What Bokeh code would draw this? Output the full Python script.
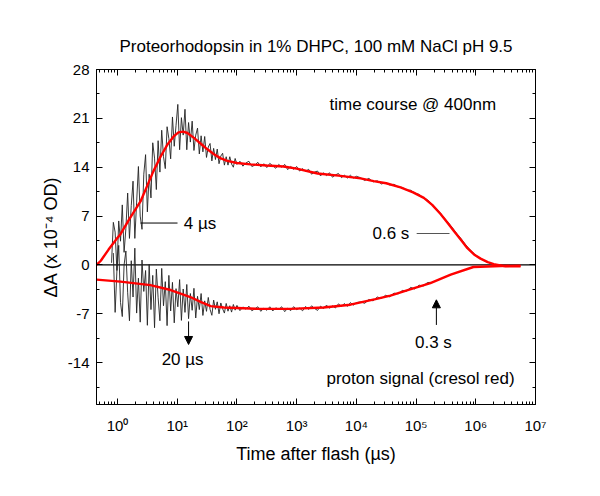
import numpy as np
from bokeh.plotting import figure
from bokeh.models import (LogAxis, LinearAxis, FixedTicker, Span, Label, Arrow,
                          NormalHead, CustomJSTickFormatter, Range1d)
from bokeh.embed import file_html
from bokeh.resources import INLINE

FONT = "Liberation Sans"

# ---------------- data (time as log10 of microseconds) ----------------
# measured trace at 400 nm (black)
up_logt = [-0.10, -0.07, -0.04, -0.01, 0.02, 0.05, 0.08, 0.11, 0.14, 0.17, 0.20, 0.23, 0.26, 0.29,
           0.32, 0.35, 0.38, 0.41, 0.44, 0.47, 0.50, 0.53, 0.56, 0.59, 0.62, 0.65, 0.68, 0.71,
           0.74, 0.77, 0.80, 0.83, 0.86, 0.89, 0.92, 0.95, 0.98, 1.01, 1.04, 1.07, 1.10, 1.13,
           1.16, 1.19, 1.22, 1.25, 1.28, 1.31, 1.34, 1.37, 1.40, 1.43, 1.46, 1.49, 1.52, 1.55,
           1.58, 1.61, 1.64, 1.67, 1.70, 1.73, 1.76, 1.79, 1.82, 1.85, 1.88, 1.91, 1.94, 1.97,
           2.00, 2.05, 2.10, 2.15, 2.20, 2.25, 2.30, 2.35, 2.40, 2.45, 2.50, 2.55, 2.60, 2.65,
           2.70, 2.75, 2.80, 2.85, 2.90, 2.95, 3.00, 3.05, 3.10, 3.15, 3.20, 3.25, 3.30, 3.35,
           3.40, 3.45, 3.50, 3.55, 3.60, 3.65, 3.70, 3.75, 3.80, 3.85, 3.90, 3.95, 4.00, 4.07,
           4.14, 4.21, 4.28, 4.35, 4.42, 4.49, 4.56, 4.63, 4.70, 4.77, 4.84, 4.91, 4.98, 5.05,
           5.12, 5.19, 5.26, 5.33, 5.40, 5.47, 5.54, 5.61, 5.68, 5.75, 5.82, 5.89, 5.96, 6.03,
           6.10, 6.17, 6.24, 6.31]
up_val = [0.3, 6.1, 4.7, -0.8, 6.3, 3.4, 8.6, 1.8, 5.2, 10.3, 3.8, 8.5, 12.0, 3.8,
          9.0, 14.1, 7.0, 5.1, 13.0, 15.8, 7.6, 13.0, 9.6, 17.5, 15.3, 10.8, 17.8, 13.3,
          19.3, 15.5, 13.8, 19.8, 18.1, 15.2, 21.2, 17.0, 20.0, 23.0, 16.5, 21.1, 18.6, 22.3,
          16.5, 20.4, 17.6, 20.6, 16.4, 18.6, 19.6, 15.9, 18.5, 16.2, 18.4, 15.4, 16.9, 17.4,
          14.9, 16.7, 15.1, 16.6, 14.5, 15.6, 16.0, 14.3, 15.5, 14.3, 15.5, 14.45, 14.0, 15.25,
          14.4, 14.85, 14.15, 14.6, 14.85, 14.1, 14.3, 14.7, 14.05, 14.5, 13.95, 14.55, 14.2, 13.85,
          14.4, 14.0, 14.4, 13.65, 14.1, 13.7, 14.1, 13.45, 13.8, 13.4, 13.7, 13.0, 13.3, 13.45,
          12.75, 13.2, 12.8, 13.2, 12.57, 12.9, 13.1, 12.5, 12.85, 12.45, 12.85, 12.45, 12.7, 12.5,
          12.1, 12.4, 11.9, 12.05, 11.6, 11.8, 11.45, 11.55, 11.15, 11.1, 10.7, 10.7, 10.3, 10.1,
          9.6, 9.35, 8.75, 8.15, 7.5, 6.75, 6.05, 5.3, 4.5, 3.8, 3.0, 2.3, 1.7, 1.2,
          0.8, 0.5, 0.25, 0.05]

# measured proton signal, cresol red (black)
dn_logt = [-0.07, -0.04, -0.01, 0.02, 0.05, 0.08, 0.11, 0.14, 0.17, 0.20, 0.23, 0.26, 0.29,
           0.32, 0.35, 0.38, 0.41, 0.44, 0.47, 0.50, 0.53, 0.56, 0.59, 0.62, 0.65, 0.68, 0.71,
           0.74, 0.77, 0.80, 0.83, 0.86, 0.89, 0.92, 0.95, 0.98, 1.01, 1.04, 1.07, 1.10, 1.13,
           1.16, 1.19, 1.22, 1.25, 1.28, 1.31, 1.34, 1.37, 1.40, 1.43, 1.46, 1.49, 1.52, 1.55,
           1.58, 1.61, 1.64, 1.67, 1.70, 1.73, 1.76, 1.79, 1.82, 1.85, 1.88, 1.91, 1.94, 1.97,
           2.00, 2.05, 2.10, 2.15, 2.20, 2.25, 2.30, 2.35, 2.40, 2.45, 2.50, 2.55, 2.60, 2.65,
           2.70, 2.75, 2.80, 2.85, 2.90, 2.95, 3.00, 3.05, 3.10, 3.15, 3.20, 3.25, 3.30, 3.35,
           3.40, 3.45, 3.50, 3.55, 3.60, 3.65, 3.70, 3.75, 3.80, 3.85, 3.90, 3.95, 4.00, 4.07,
           4.14, 4.21, 4.28, 4.35, 4.42, 4.49, 4.56, 4.63, 4.70, 4.77, 4.84, 4.91, 4.98, 5.05,
           5.12, 5.19, 5.24]
dn_val = [1.7, -6.8, -0.85, 2.8, -5.4, -7.4, 0.0, 2.0, -4.0, -8.0, 0.6, -4.6, 2.4,
          -6.9, -1.9, -8.2, 0.7, -3.8, -0.8, -8.65, 0.1, -6.4, -1.5, -9.0, -0.6, -4.7, -8.0,
          -0.5, -5.85, -2.4, -8.7, -1.5, -6.6, -2.5, -8.3, -3.4, -6.0, -2.1, -7.95, -3.45, -6.8,
          -2.8, -7.7, -4.1, -6.5, -3.35, -7.6, -4.5, -6.4, -4.1, -7.24, -5.15, -6.65, -4.66, -6.37,
          -7.22, -5.04, -6.36, -5.29, -7.0, -5.45, -6.28, -6.9, -5.52, -6.63, -5.85, -6.76, -5.67, -6.48,
          -5.8, -6.55, -6.02, -6.34, -5.91, -6.57, -6.28, -6.0, -6.65, -6.2, -6.5, -6.0, -6.6, -6.15,
          -6.35, -6.0, -6.7, -6.2, -6.55, -5.98, -6.41, -6.19, -6.57, -5.95, -6.38, -5.86, -6.24, -6.52,
          -5.91, -6.25, -5.76, -6.21, -5.87, -6.17, -5.58, -5.93, -5.54, -5.94, -5.4, -5.75, -5.4, -5.3,
          -5.5, -4.95, -5.15, -4.6, -4.8, -4.35, -4.57, -4.04, -4.15, -3.66, -3.76, -3.22, -3.45, -2.9,
          -3.02, -2.53, -2.5]

# fit curves (red)
fit_up_logt = [-0.35, -0.28, -0.15, 0.00, 0.05, 0.20, 0.385, 0.50, 0.60, 0.72, 0.84, 0.95,
               1.02, 1.10, 1.17, 1.28, 1.39, 1.50, 1.61, 1.72, 1.84, 2.00, 2.23, 2.50, 2.78,
               3.00, 3.35, 3.70, 4.07, 4.29, 4.50, 4.74, 4.95, 5.13, 5.27, 5.41, 5.52, 5.63,
               5.75, 5.86, 5.97, 6.08, 6.20, 6.30, 6.50, 6.75]
fit_up_val = [0.0, 0.6, 2.2, 3.9, 4.4, 6.6, 9.1, 11.4, 13.4, 15.5, 17.3, 18.5,
              19.0, 19.1, 18.9, 18.2, 17.4, 16.6, 15.9, 15.3, 14.9, 14.6, 14.4, 14.25, 14.1,
              13.8, 13.1, 12.8, 12.4, 12.0, 11.7, 11.1, 10.4, 9.6, 8.6, 7.3, 6.1, 4.9,
              3.6, 2.4, 1.5, 0.9, 0.4, 0.1, -0.2, -0.2]
fit_dn_logt = [-0.35, 0.05, 0.55, 0.89, 1.22, 1.39, 1.56, 1.78, 2.35, 2.90, 3.45, 3.90,
               4.32, 4.57, 4.86, 5.24, 5.58, 5.96, 6.42, 6.75]
fit_dn_val = [-2.1, -2.4, -2.9, -3.6, -4.6, -5.3, -5.9, -6.1, -6.3, -6.3, -6.1, -5.7,
              -4.9, -4.4, -3.6, -2.6, -1.4, -0.3, -0.15, -0.1]

# axes
x_ticks = [1, 10, 100, 1000, 10000, 100000, 1000000, 10000000]
x_tick_labels = ["10\u2070", "10\u00b9", "10\u00b2", "10\u00b3", "10\u2074", "10\u2075",
                 "10\u2076", "10\u2077"]
y_ticks = [-14, -7, 0, 7, 14, 21, 28]
y_tick_labels = ["-14", "-7", "0", "7", "14", "21", "28"]
y_minor_ticks = [-17.5, -10.5, -3.5, 3.5, 10.5, 17.5, 24.5]
x_minor_ticks = [m * 10.0 ** d for d in range(-1, 7) for m in range(2, 10)]

# ---------------- figure ----------------
p = figure(width=592, height=488, x_axis_type="log",
           x_range=Range1d(10 ** -0.352, 1e7), y_range=Range1d(-20, 28),
           output_backend="svg", toolbar_location=None,
           min_border_left=96, min_border_right=57, min_border_top=69, min_border_bottom=84)
p.background_fill_color = "white"
p.border_fill_color = "white"
p.outline_line_color = "black"
p.outline_line_width = 1
p.xgrid.visible = False
p.ygrid.visible = False

p.title.text = "Proteorhodopsin in 1% DHPC, 100 mM NaCl pH 9.5"
p.title.align = "center"
p.title.text_font = FONT
p.title.text_font_size = "17px"
p.title.text_font_style = "normal"
p.title.text_color = "black"
p.title.standoff = 27

blank = CustomJSTickFormatter(code="return '';")


def style_axis(ax):
    ax.axis_line_color = "black"
    ax.axis_line_width = 1
    ax.major_tick_in = 6
    ax.major_tick_out = 0
    ax.minor_tick_in = 3
    ax.minor_tick_out = 0
    ax.major_tick_line_color = "black"
    ax.minor_tick_line_color = "black"
    ax.major_label_text_font = FONT
    ax.major_label_text_font_size = "15px"
    ax.major_label_text_color = "black"
    ax.axis_label_text_font = FONT
    ax.axis_label_text_font_size = "18px"
    ax.axis_label_text_font_style = "normal"
    ax.axis_label_text_color = "black"


xt = FixedTicker(ticks=x_ticks, minor_ticks=x_minor_ticks)
yt = FixedTicker(ticks=y_ticks, minor_ticks=y_minor_ticks)

xa = p.xaxis[0]
xa.ticker = xt
xa.major_label_overrides = dict(zip(x_ticks, x_tick_labels))
xa.axis_label = "Time after flash (\u00b5s)"
style_axis(xa)
xa.major_label_standoff = 12
xa.axis_label_standoff = 7

ya = p.yaxis[0]
ya.ticker = yt
ya.major_label_overrides = dict(zip(y_ticks, y_tick_labels))
ya.axis_label = "\u0394A (x 10\u207b\u2074 OD)"
style_axis(ya)
ya.major_label_standoff = 7
ya.axis_label_standoff = 4

top = LogAxis(ticker=xt, formatter=blank)
style_axis(top)
p.add_layout(top, "above")
right = LinearAxis(ticker=yt, formatter=blank)
style_axis(right)
p.add_layout(right, "right")

# zero line
p.add_layout(Span(location=0, dimension="width", line_color="black", line_width=1.3,
                  level="underlay"))

# data
up_t = 10 ** np.array(up_logt)
dn_t = 10 ** np.array(dn_logt)
p.line(up_t, up_val, line_color="#222222", line_width=0.9)
p.line(dn_t, dn_val, line_color="#222222", line_width=0.9)
p.line(10 ** np.array(fit_up_logt), fit_up_val, line_color="#ff0000", line_width=2.4)
p.line(10 ** np.array(fit_dn_logt), fit_dn_val, line_color="#ff0000", line_width=2.4)


# annotations
def lab(x, y, text, align="left", size="17px"):
    p.add_layout(Label(x=x, y=y, text=text, text_font=FONT, text_font_size=size,
                       text_baseline="middle", text_align=align, text_color="black"))


lab(10 ** 3.55, 23.0, "time course @ 400nm")
lab(10 ** 3.50, -16.3, "proton signal (cresol red)")
lab(10 ** 1.11, 6.0, "4 \u00b5s")
lab(10 ** 4.27, 4.5, "0.6 s")
lab(10 ** 5.29, -11.1, "0.3 s", "center")
lab(10 ** 1.09, -13.6, "20 \u00b5s", "center")

p.segment(x0=[10 ** 0.385], y0=[6.0], x1=[10 ** 1.005], y1=[6.0], line_color="black",
          line_width=1)
p.segment(x0=[10 ** 5.01], y0=[4.5], x1=[10 ** 5.56], y1=[4.5], line_color="#555555",
          line_width=1)

p.add_layout(Arrow(end=NormalHead(size=8, fill_color="black", line_color="black"),
                   x_start=10 ** 5.34, y_start=-8.6, x_end=10 ** 5.34, y_end=-5.0,
                   line_color="black", line_width=1))
p.add_layout(Arrow(end=NormalHead(size=8, fill_color="black", line_color="black"),
                   x_start=10 ** 1.19, y_start=-8.1, x_end=10 ** 1.19, y_end=-11.4,
                   line_color="black", line_width=1))

open("out.html", "w").write(file_html(p, INLINE))
